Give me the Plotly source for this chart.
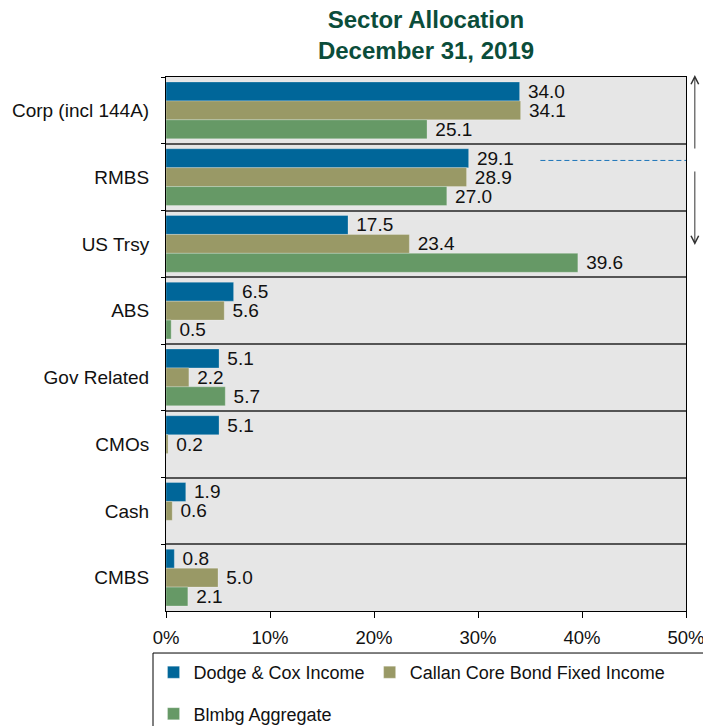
import plotly.graph_objects as go

categories = ["Corp (incl 144A)", "RMBS", "US Trsy", "ABS", "Gov Related", "CMOs", "Cash", "CMBS"]
dodge_cox = [34.0, 29.1, 17.5, 6.5, 5.1, 5.1, 1.9, 0.8]
callan_core = [34.1, 28.9, 23.4, 5.6, 2.2, 0.2, 0.6, 5.0]
blmbg_agg = [25.1, 27.0, 39.6, 0.5, 5.7, None, None, 2.1]
x_ticks = [0, 10, 20, 30, 40, 50]
x_tick_labels = ["0%", "10%", "20%", "30%", "40%", "50%"]

series = [
    ("Dodge & Cox Income", dodge_cox, "#006699", "legend"),
    ("Callan Core Bond Fixed Income", callan_core, "#999966", "legend"),
    ("Blmbg Aggregate", blmbg_agg, "#669966", "legend2"),
]

FONT = "Liberation Sans, Arial, sans-serif"

fig = go.Figure()
for name, vals, color, leg in series:
    fig.add_trace(go.Bar(
        y=categories, x=vals, name=name, orientation="h", legend=leg,
        marker=dict(color=color, line=dict(color="rgba(255,255,255,0.5)", width=0.5)),
        text=[(" " + f"{v:.1f}") if v is not None else "" for v in vals],
        textposition="outside", cliponaxis=False, constraintext="none",
        textfont=dict(family=FONT, size=19, color="#111111"),
        hoverinfo="x+name",
    ))

fig.update_layout(
    width=703, height=726,
    margin=dict(l=166, r=17, t=77, b=115),
    paper_bgcolor="white", plot_bgcolor="#e6e6e6",
    barmode="group", bargap=0.15, bargroupgap=0,
    font=dict(family=FONT, size=18, color="#111111"),
    title=dict(text="<b>Sector Allocation<br>December 31, 2019</b>",
               x=(166 + 686) / 2 / 703, xanchor="center", y=0.962, yanchor="top",
               font=dict(family=FONT, size=24, color="#0b4d3a")),
    xaxis=dict(range=[0, 50], tickvals=x_ticks, ticktext=x_tick_labels,
               showgrid=False, zeroline=False, showline=True, linecolor="black",
               linewidth=1, mirror=True, ticks="outside", ticklen=6, tickcolor="black",
               tickfont=dict(size=18.5), automargin=False, ticklabeloverflow="allow",
               ticklabelstandoff=4),
    yaxis=dict(range=[len(categories) - 0.5, -0.5], tickson="boundaries", showgrid=True,
               gridcolor="#555555", gridwidth=1.5, showline=True, linecolor="black",
               linewidth=1, mirror=True, ticks="outside", ticklen=4, tickcolor="black",
               tickfont=dict(size=19), ticklabelstandoff=12, automargin=False),
    legend=dict(orientation="h", xref="container", x=0.2184, xanchor="left",
                yref="container", y=0.0737, yanchor="middle",
                borderwidth=0, bgcolor="rgba(0,0,0,0)", font=dict(size=18),
                traceorder="normal"),
    legend2=dict(orientation="h", xref="container", x=0.2184, xanchor="left",
                 yref="container", y=0.0165, yanchor="middle",
                 borderwidth=0, bgcolor="rgba(0,0,0,0)", font=dict(size=18)),
    showlegend=True,
)

# legend frame (runs past the right and bottom edges as in the reference)
fig.add_shape(type="rect", xref="paper", yref="paper", x0=-0.025, x1=1.1,
              y0=-0.0787, y1=-0.4, line=dict(color="black", width=1), layer="below")

# dashed reference line inside RMBS band
fig.add_shape(type="line", xref="x", yref="y", x0=36, x1=50, y0=0.75, y1=0.75,
              line=dict(color="#1a73b8", width=1, dash="5px,3px"))

# arrows outside the right edge
fig.add_annotation(xref="paper", yref="paper", x=1.017, y=1.0037, ax=0, ay=75,
                   showarrow=True, arrowhead=5,
                   arrowsize=1.5, arrowwidth=1, arrowcolor="#333333", text="")
fig.add_annotation(xref="paper", yref="paper", x=1.017, y=0.6854, ax=0, ay=-75,
                   showarrow=True, arrowhead=5,
                   arrowsize=1.5, arrowwidth=1, arrowcolor="#333333", text="")

fig.write_html("out.html", config={"displayModeBar": False},
               post_script="document.body.style.margin='0px';")
